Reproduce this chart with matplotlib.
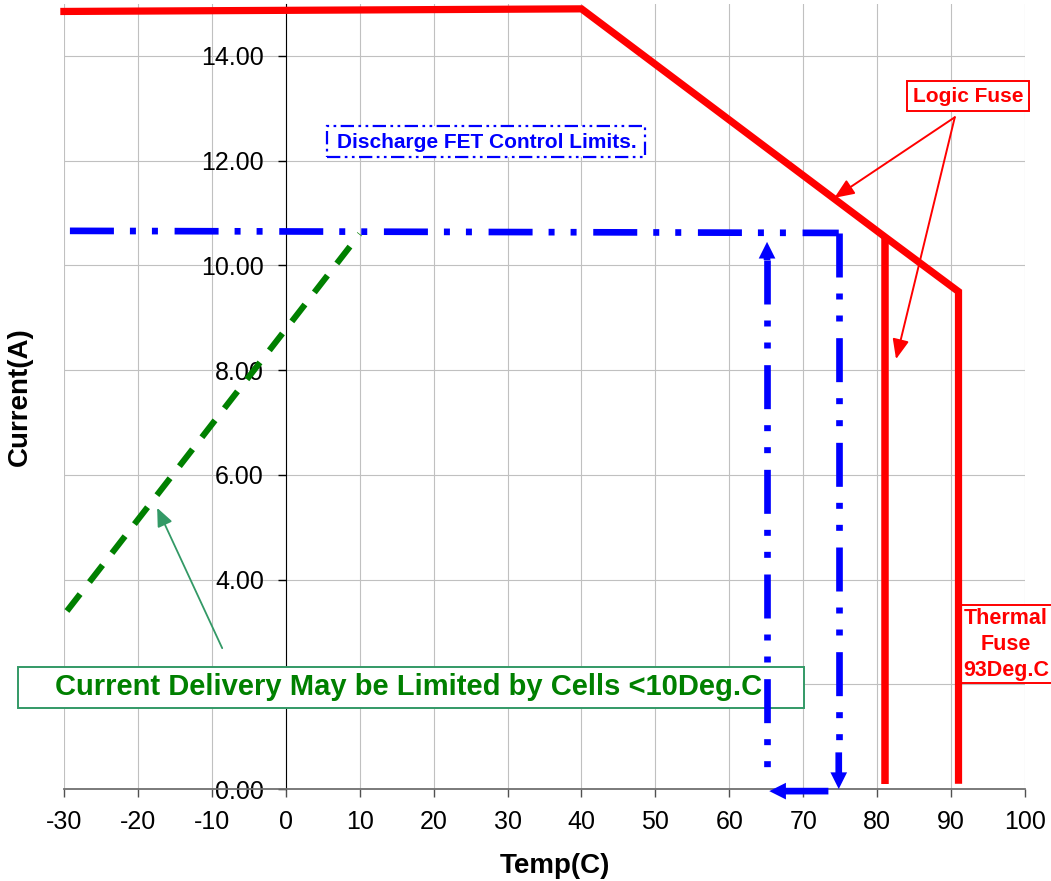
import matplotlib as mpl
import matplotlib.pyplot as plt
from matplotlib.patches import Rectangle
from matplotlib.ticker import FuncFormatter

mpl.rcParams['font.family'] = ['Liberation Sans', 'DejaVu Sans']
mpl.rcParams['axes.unicode_minus'] = False

# Logic fuse limit (red)
logic_temp = [-30.5, 40, 81, 91, 91]
logic_current = [14.85, 14.9, 10.55, 9.5, 0.1]
drop_temp = [81, 81]
drop_current = [10.55, 0.1]

# Discharge FET control limits (blue)
fet_temp = [-29.2, 74.8]
fet_current = [10.66, 10.62]
fet_drop_temp = [74.8, 74.8]
fet_drop_current = [10.62, 0.7]
fet_down_tip = (74.8, 0.0)
fet_back_from = (73.4, -0.04)
fet_back_tip = (65.4, -0.04)
ret_temp = [65.1, 65.1]
ret_current = [10.1, 0.17]
ret_up_tip = (65.1, 10.45)

# Cell limit (green dashed)
cell_temp = [-29.6, 10.0]
cell_current = [3.4, 10.6]

# annotation arrows
green_arrow_from = (-8.6, 2.69)
green_arrow_to = (-17.4, 5.37)
logic_arrow_from = (90.5, 12.83)
logic_arrow_to = [(74.2, 11.29), (82.55, 8.21)]

x_ticks = list(range(-30, 101, 10))
y_ticks = list(range(0, 15, 2))
hidden_y_label = 2  # covered by the note box in the original

red = '#ff0000'
blue = '#0000ff'
green = '#008000'
sea = '#339966'
dashdotdot = (6.6, 2.4, 0.9, 2.4, 0.9, 2.5)

fig = plt.figure(figsize=(10.51, 8.81), dpi=100)
ax = fig.add_axes([0.0609, 0.1044, 0.9144, 0.8915])
ax.set_xlim(-30, 100)
ax.set_ylim(0, 15)
ax.set_xticks(x_ticks)
ax.set_yticks(y_ticks)
ax.yaxis.set_major_formatter(
    FuncFormatter(lambda v, p: '' if v == hidden_y_label else f'{v:.2f}'))
ax.grid(True, color='#c0c0c0', lw=0.8, zorder=0)
ax.set_axisbelow(True)

ax.spines['top'].set_visible(False)
ax.spines['right'].set_visible(False)
ax.spines['left'].set_position(('data', 0))
ax.spines['left'].set_color('black')
ax.spines['bottom'].set_color('#707070')
ax.spines['bottom'].set_linewidth(1.3)
ax.tick_params(axis='y', direction='out', length=5.8, width=1.0, pad=10,
               labelsize=18, colors='black')
ax.tick_params(axis='x', direction='out', length=5.8, width=1.0, pad=9,
               labelsize=18, color='#505050', labelcolor='black')

ax.set_xlabel('Temp(C)', fontsize=20, fontweight='bold')
ax.xaxis.set_label_coords(0.511, -0.082)
ax.set_ylabel('Current(A)', fontsize=20, fontweight='bold')
ax.yaxis.set_label_coords(-0.032, 0.5)

# red logic fuse
ax.plot(logic_temp, logic_current, color=red, lw=5.2, solid_joinstyle='miter',
        solid_capstyle='butt', zorder=5, clip_on=False)
ax.plot(drop_temp, drop_current, color=red, lw=5.4, solid_capstyle='butt', zorder=5)

# blue FET limit
for xs, ys in [(fet_temp, fet_current), (fet_drop_temp, fet_drop_current),
               (ret_temp, ret_current)]:
    ax.plot(xs, ys, color=blue, lw=4.8, dashes=dashdotdot,
            dash_capstyle='butt', zorder=6)
head = dict(arrowstyle='simple,head_length=0.75,head_width=0.75,tail_width=0.3',
            mutation_scale=16, color=blue, lw=0, shrinkA=0, shrinkB=0)
ax.annotate('', xy=fet_down_tip, xytext=(fet_drop_temp[-1], fet_drop_current[-1]),
            arrowprops=head, zorder=6, annotation_clip=False)
ax.annotate('', xy=fet_back_tip, xytext=fet_back_from,
            arrowprops=head, zorder=6, annotation_clip=False)
ax.annotate('', xy=ret_up_tip, xytext=(ret_temp[0], ret_current[0]),
            arrowprops=head, zorder=6, annotation_clip=False)

# green cell limit
ax.plot(cell_temp, cell_current, color=green, lw=4.4, dashes=(3.5, 2.5),
        dash_capstyle='butt', zorder=5)

# green box and arrow
ax.add_patch(Rectangle((-36.2, 1.547), 106.3, 0.78, fc='white', ec=sea, lw=1.4,
                       zorder=3, clip_on=False))
ax.text(16.6, 1.94, 'Current Delivery May be Limited by Cells <10Deg.C',
        fontsize=21, fontweight='bold', color=green, ha='center', va='center',
        zorder=4)
ax.annotate('', xy=green_arrow_to, xytext=green_arrow_from,
            arrowprops=dict(arrowstyle='-|>,head_length=0.7,head_width=0.3',
                            mutation_scale=16, color=sea, lw=1.3,
                            shrinkA=0, shrinkB=0), zorder=4)

# discharge FET label
ax.add_patch(Rectangle((5.6, 12.07), 43.0, 0.59, fc='white', ec=blue, lw=1.6,
                       ls=(0, (6, 2, 1.2, 2, 1.2, 2)), zorder=3))
ax.text(27.2, 12.35, 'Discharge FET Control Limits.', fontsize=15,
        fontweight='bold', color=blue, ha='center', va='center', zorder=4)

# logic fuse label
ax.add_patch(Rectangle((84.0, 12.95), 16.5, 0.57, fc='white', ec=red, lw=1.4,
                       zorder=3, clip_on=False))
ax.text(92.3, 13.22, 'Logic Fuse', fontsize=15, fontweight='bold', color=red,
        ha='center', va='center', zorder=4)
for tip in logic_arrow_to:
    ax.annotate('', xy=tip, xytext=logic_arrow_from,
                arrowprops=dict(arrowstyle='-|>,head_length=0.6,head_width=0.25',
                                mutation_scale=20, color=red, lw=1.4,
                                shrinkA=0, shrinkB=0), zorder=4)

# thermal fuse label
ax.add_patch(Rectangle((91.2, 2.02), 20, 1.49, fc='white', ec=red, lw=1.4,
                       zorder=3, clip_on=False))
ax.text(97.4, 2.76, 'Thermal\nFuse\n93Deg.C', fontsize=15.5, fontweight='bold',
        color=red, ha='center', va='center', linespacing=1.3, zorder=4)

plt.savefig('out.png', dpi=100)
